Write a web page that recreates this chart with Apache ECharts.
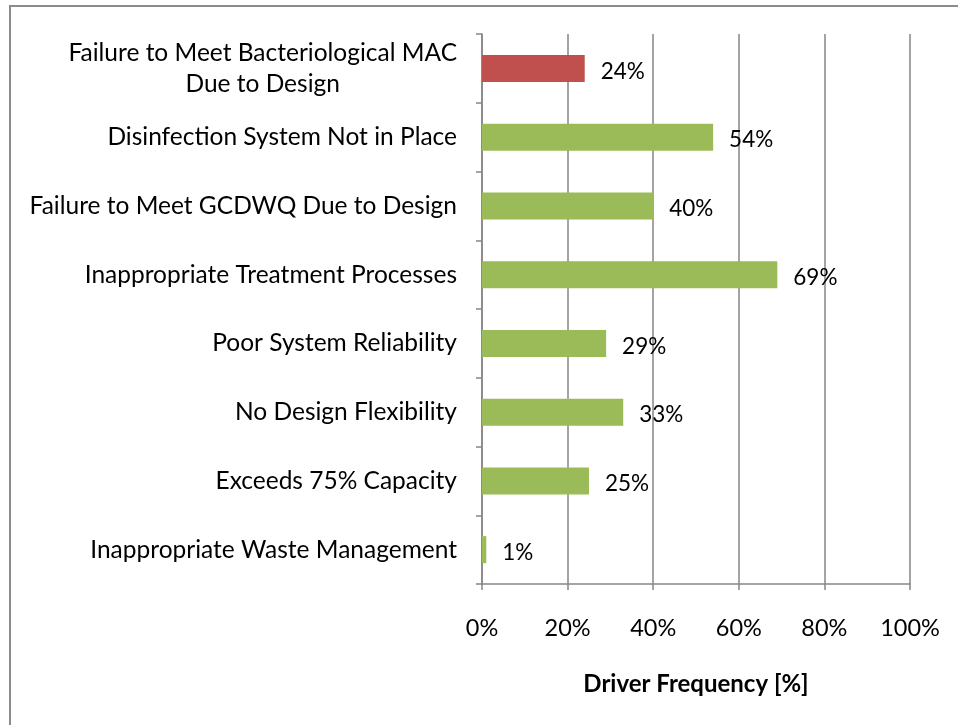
<!DOCTYPE html>
<html>
<head>
<meta charset="utf-8">
<script src="https://cdn.jsdelivr.net/npm/echarts@6/dist/echarts.min.js"></script>
<style>
  html, body { margin: 0; padding: 0; background: #fff; }
  #chart { width: 958px; height: 725px; }
  #frame { position: absolute; left: 9px; top: 5px; width: 1000px; height: 800px;
           border-left: 2px solid #8c8c8c; border-top: 2px solid #8c8c8c; pointer-events: none; }
</style>
</head>
<body>
<div id="chart"></div>
<div id="frame"></div>
<script>
const categories = [
  'Failure to Meet Bacteriological MAC\nDue to Design',
  'Disinfection System Not in Place',
  'Failure to Meet GCDWQ Due to Design',
  'Inappropriate Treatment Processes',
  'Poor System Reliability',
  'No Design Flexibility',
  'Exceeds 75% Capacity',
  'Inappropriate Waste Management'
]
const values = [24, 54, 40, 69, 29, 33, 25, 1]
const barColors = ['#C0504D', '#9BBB59', '#9BBB59', '#9BBB59', '#9BBB59', '#9BBB59', '#9BBB59', '#9BBB59']

const font = 'Lato, "Open Sans", sans-serif'
const gridColor = '#868686'

const chart = echarts.init(document.getElementById('chart'))
chart.setOption({
  animation: false,
  grid: { left: 482, right: 48, top: 34, bottom: 141 },
  xAxis: {
    type: 'value',
    min: 0,
    max: 100,
    interval: 20,
    name: 'Driver Frequency [%]',
    nameLocation: 'middle',
    nameGap: 88,
    nameTextStyle: { fontFamily: font, fontSize: 24, fontWeight: 'bold', color: '#000' },
    axisLine: { show: true, lineStyle: { color: gridColor, width: 1.5 } },
    axisTick: { show: true, length: 6, lineStyle: { color: gridColor, width: 1.5 } },
    axisLabel: { formatter: '{value}%', fontFamily: font, fontSize: 23.5, color: '#000', margin: 32 },
    splitLine: { show: true, lineStyle: { color: gridColor, width: 1.5 } }
  },
  yAxis: {
    type: 'category',
    inverse: true,
    data: categories,
    axisLine: { show: true, lineStyle: { color: gridColor, width: 1.5 } },
    axisTick: { show: true, length: 6, lineStyle: { color: gridColor, width: 1.5 } },
    axisLabel: {
      margin: 25,
      formatter: (v) => v.split('\n').map((s) => '{a|' + s + '}').join('\n'),
      rich: { a: { fontFamily: font, fontSize: 24.5, color: '#000', align: 'center', lineHeight: 31 } }
    }
  },
  series: [{
    type: 'bar',
    barWidth: 27,
    data: values.map((v, i) => ({ value: v, itemStyle: { color: barColors[i] } })),
    label: {
      show: true,
      position: 'right',
      distance: 16,
      offset: [0, 3],
      formatter: '{c}%',
      fontFamily: font,
      fontSize: 22.5,
      color: '#000'
    }
  }]
})
</script>
</body>
</html>
